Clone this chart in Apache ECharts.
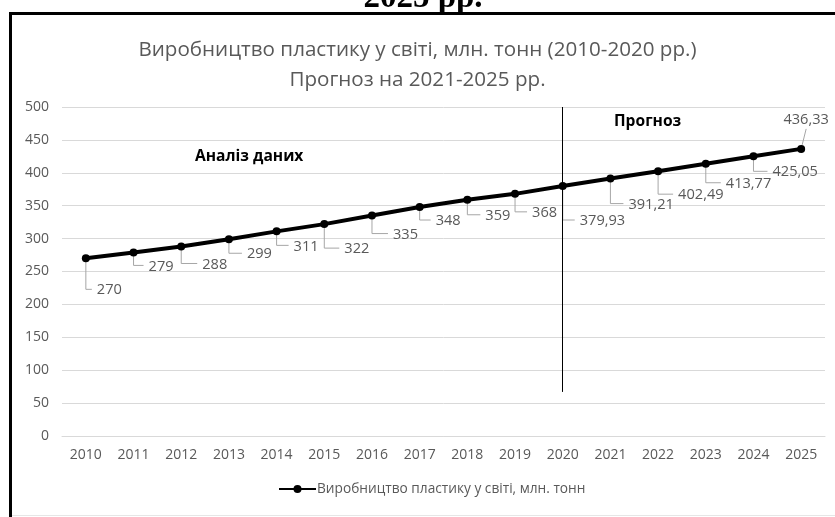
<!DOCTYPE html>
<html>
<head>
<meta charset="utf-8">
<script src="https://cdn.jsdelivr.net/npm/echarts@6/dist/echarts.min.js"></script>
<style>
  html, body { margin: 0; padding: 0; background: #fff; }
  #chart { width: 835px; height: 517px; }
</style>
</head>
<body>
<div id="chart"></div>
<script>
const YEARS = ["2010", "2011", "2012", "2013", "2014", "2015", "2016", "2017",
  "2018", "2019", "2020", "2021", "2022", "2023", "2024", "2025"];
const PRODUCTION = [270, 279, 288, 299, 311, 322, 335, 348, 359, 368,
  379.93, 391.21, 402.49, 413.77, 425.05, 436.33];
const Y_TICKS = [0, 50, 100, 150, 200, 250, 300, 350, 400, 450, 500];
const SERIES_NAME = "Виробництво пластику у світі, млн. тонн";
const TITLE = "Виробництво пластику у світі, млн. тонн (2010-2020 рр.)\nПрогноз на 2021-2025 рр.";

// where each callout label sits, in px from its point (negative drop = above)
const LABEL_DROP = [31, 13, 17, 14, 14, 24, 18, 13, 15, 18, 34, 25, 23, 19, 15, -29];
const LABEL_SHIFT = [11, 15, 21, 18, 17, 20, 21, 16, 18, 17, 17, 18, 20, 20, 19, 5];

const FONT = '"Open Sans", "Noto Sans", sans-serif';
const GREY = "#595959";
const fmt = (v) => String(v).replace(".", ",");

const chart = echarts.init(document.getElementById("chart"));

chart.setOption({
  animation: false,
  backgroundColor: "#fff",
  textStyle: { fontFamily: FONT },
  title: {
    text: TITLE,
    left: "center",
    top: 30,
    textStyle: { color: GREY, fontSize: 20.6, fontWeight: "normal", lineHeight: 30, fontFamily: FONT },
  },
  grid: { left: 62, right: 10, top: 107, bottom: 81 },
  legend: {
    data: [SERIES_NAME],
    bottom: 16,
    left: 273,
    itemWidth: 37,
    itemHeight: 10,
    itemGap: 2,
    textStyle: { color: GREY, fontSize: 13.7, fontFamily: FONT, padding: [0, 0, 0, -4] },
  },
  xAxis: {
    type: "category",
    data: YEARS,
    boundaryGap: true,
    axisLine: { lineStyle: { color: "#d9d9d9" } },
    axisTick: { show: false },
    axisLabel: { color: GREY, fontSize: 14, margin: 12, fontFamily: FONT },
  },
  yAxis: {
    type: "value",
    min: Y_TICKS[0],
    max: Y_TICKS[Y_TICKS.length - 1],
    interval: Y_TICKS[1] - Y_TICKS[0],
    axisLine: { show: false },
    axisTick: { show: false },
    axisLabel: { color: GREY, fontSize: 14, margin: 13, fontFamily: FONT },
    splitLine: { lineStyle: { color: "#d9d9d9" } },
  },
  series: [
    {
      name: "callouts",
      type: "custom",
      z: 1,
      silent: true,
      data: YEARS.map((y, i) => [i, PRODUCTION[i]]),
      renderItem(params, api) {
        const i = params.dataIndex;
        const p = api.coord([api.value(0), api.value(1)]);
        const drop = LABEL_DROP[i];
        const dx = LABEL_SHIFT[i];
        const text = fmt(PRODUCTION[i]);
        const lineStyle = { stroke: "#a6a6a6", lineWidth: 1, fill: null };
        const font = "14.6px " + FONT;
        if (drop < 0) {
          return {
            type: "group",
            children: [
              { type: "line", shape: { x1: p[0] + 1, y1: p[1] - 4, x2: p[0] + dx, y2: p[1] + drop + 9 }, style: lineStyle },
              { type: "text", x: p[0] + dx, y: p[1] + drop,
                style: { text, fill: GREY, font, textAlign: "center", textVerticalAlign: "middle" } },
            ],
          };
        }
        return {
          type: "group",
          children: [
            { type: "polyline", shape: { points: [[p[0], p[1] + 3], [p[0], p[1] + drop], [p[0] + dx - 5, p[1] + drop]] }, style: lineStyle },
            { type: "text", x: p[0] + dx, y: p[1] + drop + 1,
              style: { text, fill: GREY, font, textAlign: "left", textVerticalAlign: "middle" } },
          ],
        };
      },
    },
    {
      name: SERIES_NAME,
      type: "line",
      z: 3,
      data: PRODUCTION,
      symbol: "circle",
      symbolSize: 8,
      lineStyle: { color: "#000", width: 4 },
      itemStyle: { color: "#000" },
      markLine: {
        silent: true,
        symbol: "none",
        label: { show: false },
        lineStyle: { color: "#000", width: 1, type: "solid" },
        data: [[{ coord: ["2020", 500] }, { coord: ["2020", 67] }]],
      },
    },
  ],
  graphic: [
    { type: "text", left: 195, top: 149, style: { text: "Аналіз даних", fill: "#000", font: "bold 15.6px " + FONT } },
    { type: "text", left: 614, top: 114, style: { text: "Прогноз", fill: "#000", font: "bold 15.6px " + FONT } },
    { type: "text", x: 423, y: 15, z: 1,
      style: { text: "2025 рр.", fill: "#000", font: 'bold 33px "Liberation Serif", "DejaVu Serif", serif', textAlign: "center", textVerticalAlign: "bottom" } },
    { type: "rect", shape: { x: 9, y: 12, width: 826, height: 3 }, style: { fill: "#000" }, z: 10 },
    { type: "rect", shape: { x: 9, y: 12, width: 3, height: 505 }, style: { fill: "#000" }, z: 10 },
    { type: "rect", shape: { x: 12, y: 515, width: 823, height: 1 }, style: { fill: "#e6e6e6" }, z: 10 },
  ],
});
</script>
</body>
</html>
